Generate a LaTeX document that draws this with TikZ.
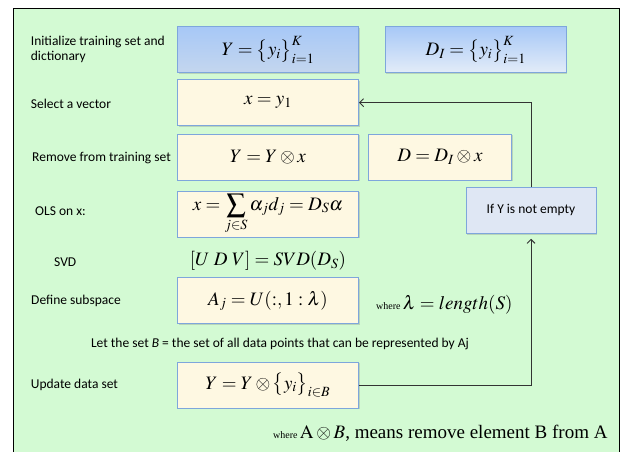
\documentclass[tikz,border=0pt]{standalone}
\usepackage{mathptmx}
\usepackage[no-math]{fontspec}
\setmainfont{Carlito}
\newfontfamily\timesfont{Liberation Serif}
\usepackage{xcolor}
\usepackage{tikz}
\usetikzlibrary{arrows.meta,shadows}

\definecolor{panel}{HTML}{D3FAD3}
\definecolor{cream}{HTML}{FEF8E2}
\definecolor{boxline}{HTML}{7EA6DC}
\definecolor{inittop}{HTML}{A7C8F7}
\definecolor{initbot}{HTML}{C4D6EE}
\definecolor{dictbot}{HTML}{E3ECF8}
\definecolor{ifblue}{HTML}{DFE7F4}
\definecolor{flowline}{HTML}{333333}

\newcommand{\eqsize}{\fontsize{19}{22}\selectfont}
\newcommand{\lblsize}{\fontsize{13.5}{15.5}\selectfont}

\tikzset{
  stepbox/.style={draw=boxline, line width=0.9pt, fill=cream, minimum width=181pt,
    minimum height=46pt, inner sep=0pt, font=\eqsize,
    drop shadow={shadow xshift=1.2pt, shadow yshift=-1.2pt, opacity=0.3}},
  initbox/.style={stepbox, top color=inittop, bottom color=initbot},
  lbl/.style={anchor=west, font=\lblsize, align=left, inner sep=0pt},
  flow/.style={draw=flowline, line width=0.9pt, -{Straight Barb[length=4pt,width=8pt]}},
}

\begin{document}
\begin{tikzpicture}[x=1pt,y=-1pt]
\useasboundingbox (0,0) rectangle (627,452);
\clip (0,0) rectangle (627,452);
\draw[fill=panel, line width=0.9pt] (13.3,8.7) rectangle (619.3,470);

% step boxes
\node[initbox] (ybox) at (268,49.7) {$Y = \big\{y_i\big\}_{i=1}^K$};
\node[initbox, bottom color=dictbot] (dbox) at (475.7,49.7) {$D_I = \big\{y_i\big\}_{i=1}^K$};
\node[stepbox] (xbox) at (268,102.7) {$x = y_1$};
\node[stepbox] (remy) at (268,157) {$Y = Y \otimes x$};
\node[stepbox, minimum width=143.4pt] (remd) at (440,157) {$D = D_I \otimes x$};
\node[stepbox] (ols) at (268,214) {$x = \displaystyle\sum_{j\in S}\alpha_j d_j = D_S\alpha$};
\node[font=\eqsize] (svd) at (268,261) {$[U\ D\ V] = SVD(D_S)$};
\node[stepbox] (sub) at (268,300.8) {$A_j = U(:,1:\lambda)$};
\node[stepbox] (upd) at (268,385) {$Y = Y \otimes \big\{y_i\big\}_{i\in B}$};
\node[stepbox, fill=ifblue, minimum width=130pt, font=\lblsize] (test) at (531,210.3) {If Y is not empty};

% labels
\node[lbl] (l1) at (30.7,49.5) {Initialize training set and\\dictionary};
\node[lbl] (l2) at (30.7,104) {Select a vector};
\node[lbl] (l3) at (32,158) {Remove from training set};
\node[lbl] (l4) at (35,211) {OLS on x:};
\node[lbl] (l5) at (54,262) {SVD};
\node[lbl] (l6) at (31,301) {Define subspace};
\node[font=\lblsize, inner sep=0pt] (l7) at (280,344) {Let the set \textit{B} = the set of all data points that can be represented by Aj};
\node[lbl] (l8) at (30.7,385) {Update data set};
\node[anchor=west, inner sep=0pt] (lam) at (376,305) {{\timesfont\fontsize{10}{12}\selectfont where} {\eqsize$\lambda = length(S)$}};
\node[anchor=east, inner sep=0pt] (note) at (607.7,433) {{\timesfont\fontsize{10}{12}\selectfont where} {\eqsize\timesfont$\mathrm{A}\otimes B$, means remove element B from A}};

% loop back
\draw[flow, shorten >=5pt] (upd.east) -| (test.south);
\draw[flow] (test.north) |- (xbox.east);
\end{tikzpicture}
\end{document}
